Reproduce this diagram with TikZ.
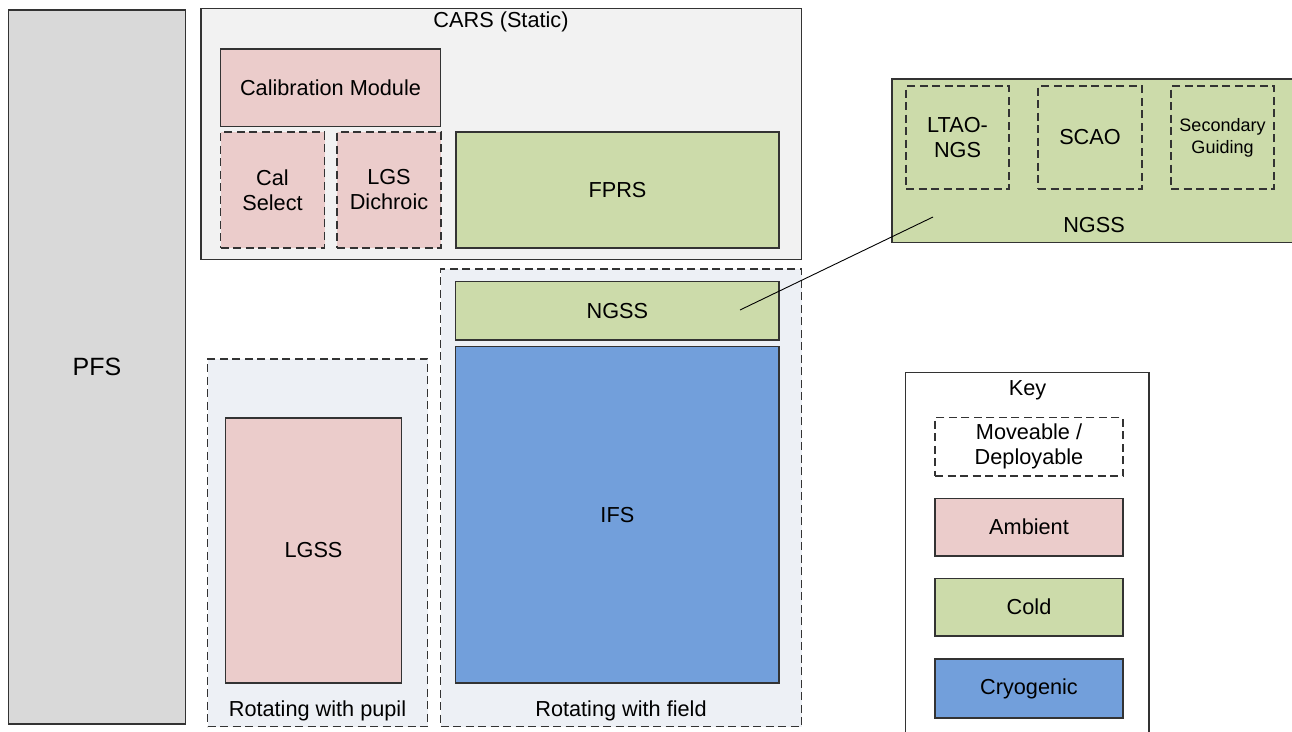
\documentclass[tikz,border=0pt]{standalone}
\usepackage{fontspec}
\setmainfont{Liberation Sans}
\definecolor{bordc}{HTML}{333333}
\definecolor{pfsc}{HTML}{D9D9D9}
\definecolor{carsc}{HTML}{F2F2F2}
\definecolor{rotc}{HTML}{EDF0F5}
\definecolor{ambc}{HTML}{EBCCCB}
\definecolor{coldc}{HTML}{CCDBAA}
\definecolor{cryoc}{HTML}{729FDB}
\begin{document}
\begin{tikzpicture}[x=1pt,y=-1pt,
  base/.style={draw=bordc, line width=1.1pt, anchor=north west, inner sep=0pt, outer sep=0pt,
    align=center, font=\fontsize{21.7}{25}\selectfont, text=black},
  movebox/.style={base, dashed, dash pattern=on 8pt off 4.5pt},
  ambbox/.style={base, fill=ambc},
  coldbox/.style={base, fill=coldc},
  cryobox/.style={base, fill=cryoc},
  lbl/.style={inner sep=0pt, align=center, font=\fontsize{21.7}{25}\selectfont},
  conn/.style={draw=black, line width=0.9pt}]
\useasboundingbox (0,0) rectangle (1292,731);

% PFS
\node[base, fill=pfsc, minimum width=177pt, minimum height=714pt, font=\fontsize{25}{28}\selectfont] (pfs) at (8.5,10) {PFS};

% CARS container
\node[base, fill=carsc, minimum width=600.5pt, minimum height=251pt] (cars) at (201,8.5) {};
\node[lbl] (carslbl) at (501,22) {CARS (Static)};
\node[ambbox, minimum width=220pt, minimum height=77.5pt] (calmod) at (220.5,49) {Calibration Module};
\node[ambbox, movebox, minimum width=104pt, minimum height=116pt] (calsel) at (220.5,132) {Cal\\Select};
\node[ambbox, movebox, minimum width=104pt, minimum height=116pt] (lgsd) at (337,132) {LGS\\Dichroic};
\node[coldbox, minimum width=323pt, minimum height=116pt] (fprs) at (456,132) {FPRS};

% Rotating with field
\node[base, movebox, fill=rotc, minimum width=361pt, minimum height=457.5pt] (rotfield) at (440.7,269) {};
\node[lbl] (rotfieldlbl) at (621,711) {Rotating with field};
\node[coldbox, minimum width=323.3pt, minimum height=58.3pt] (ngss) at (455.7,281.7) {NGSS};
\node[cryobox, minimum width=323.3pt, minimum height=336.3pt] (ifs) at (455.7,346.7) {IFS};

% Rotating with pupil
\node[base, movebox, fill=rotc, minimum width=220pt, minimum height=367.5pt] (rotpupil) at (207.5,359) {};
\node[lbl] (rotpupillbl) at (317.5,711) {Rotating with pupil};
\node[ambbox, minimum width=176pt, minimum height=265pt] (lgss) at (225.5,418) {LGSS};

% NGSS detail
\node[coldbox, minimum width=410pt, minimum height=163.7pt] (ngssbig) at (892,79) {};
\node[lbl] (ngssbiglbl) at (1094,225) {NGSS};
\node[movebox, minimum width=103pt, minimum height=103pt] (ltao) at (906,86) {LTAO-\\NGS};
\node[movebox, minimum width=104pt, minimum height=103pt] (scao) at (1038,86) {SCAO};
\node[movebox, minimum width=103pt, minimum height=103pt, font=\fontsize{18}{22}\selectfont] (secg) at (1171,86) {Secondary\\Guiding};

% connector
\coordinate (ngssin) at (740,310);
\coordinate (ngssout) at (933,217);
\draw[conn] (ngssin) -- (ngssout);

% Key
\node[base, fill=white, minimum width=243.3pt, minimum height=380pt] (key) at (905.7,372.3) {};
\node[lbl] (keylbl) at (1027.5,390) {Key};
\node[movebox, minimum width=188pt, minimum height=58.3pt] (kmove) at (935,417.7) {Moveable /\\Deployable};
\node[ambbox, minimum width=188pt, minimum height=57.7pt] (kamb) at (935,498.3) {Ambient};
\node[coldbox, minimum width=188pt, minimum height=57.7pt] (kcold) at (935,578.3) {Cold};
\node[cryobox, minimum width=188pt, minimum height=59pt] (kcryo) at (935,659) {Cryogenic};
\end{tikzpicture}
\end{document}
